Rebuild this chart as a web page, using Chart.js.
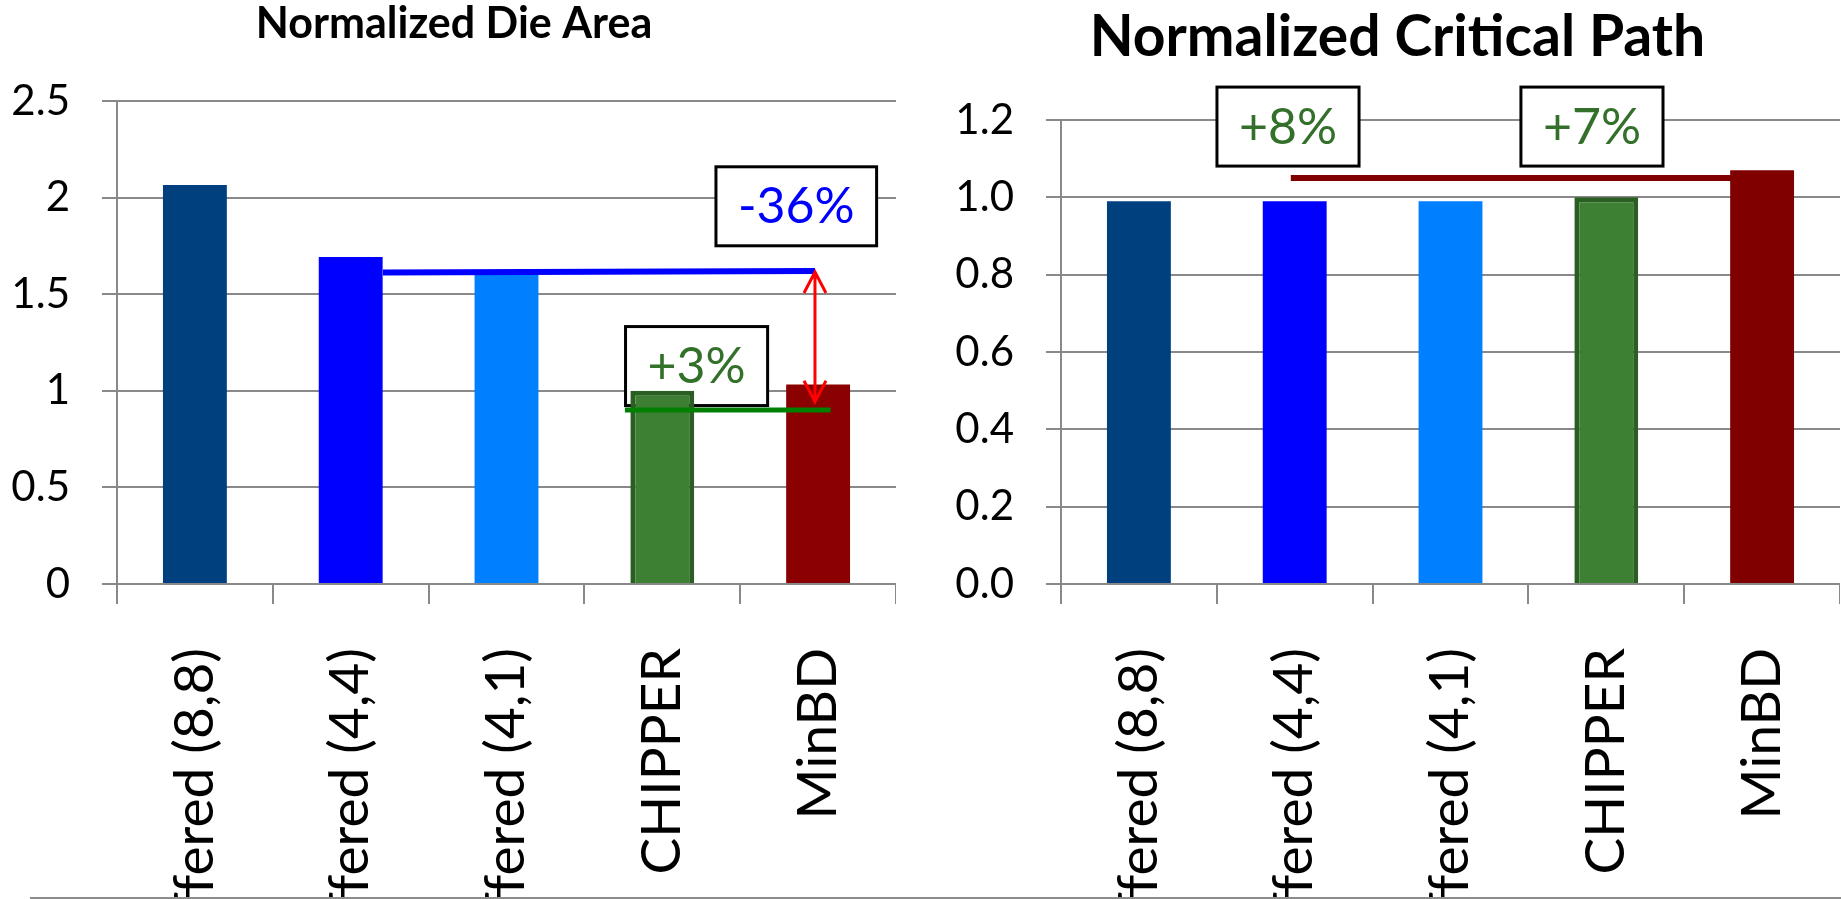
<!DOCTYPE html>
<html>
<head>
<meta charset="utf-8">
<title>Normalized Die Area / Normalized Critical Path</title>
<script src="https://cdn.jsdelivr.net/npm/chart.js@4.4.1/dist/chart.umd.min.js"></script>
<style>
  html, body { margin: 0; padding: 0; background: #fff; overflow: hidden; }
  #wrap { position: relative; width: 1841px; height: 899px; }
  #area-chart { position: absolute; left: 12px; top: 0; }
  #path-chart { position: absolute; left: 955px; top: 0; }
  #bottom-rule { position: absolute; left: 30px; right: 0; top: 897px; height: 2px; background: #8c8c8c; }
</style>
</head>
<body>
<div id="wrap">
  <canvas id="area-chart" width="884" height="899"></canvas>
  <canvas id="path-chart" width="885" height="899"></canvas>
  <div id="bottom-rule"></div>
</div>
<script>
// categories and values
var designs = ['Buffered (8,8)', 'Buffered (4,4)', 'Buffered (4,1)', 'CHIPPER', 'MinBD'];
var dieArea = [2.065, 1.693, 1.61, 1.0, 1.032];
var criticalPath = [0.99, 0.99, 0.99, 1.0, 1.07];
var areaTicks = ['0', '0.5', '1', '1.5', '2', '2.5'];
var pathTicks = ['0.0', '0.2', '0.4', '0.6', '0.8', '1.0', '1.2'];

// callouts: [category index, value, text]
var areaCallouts = [[3.86, 1.955, '-36%'], [3.22, 1.128, '+3%']];
var pathCallouts = [[0.957, 1.183, '+8%'], [2.908, 1.183, '+7%']];
// reference lines: [from index, to index, from value, to value]
var areaBufferedLine = [1.207, 3.98, 1.612, 1.62];
var areaChipperLine = [2.76, 4.08, 0.9, 0.9];
var pathChipperLine = [0.975, 3.807, 1.05, 1.05];
// double arrow: [index, top value, bottom value]
var areaArrow = [3.98, 1.615, 0.943];

var gridGray = '#898989';
var textGreen = '#33702a';

// draws the boxed percentages, the reference lines and the arrow
var calloutPlugin = {
  id: 'callouts',
  beforeDatasetsDraw: function(chart, args, opts) {
    // white boxes sit over the grid but under the bars
    var ctx = chart.ctx, x = chart.scales.x, y = chart.scales.y;
    ctx.save();
    ctx.font = '50px Lato';
    (opts.boxes || []).forEach(function(b) {
      var cx = x.getPixelForValue(b[0]), cy = y.getPixelForValue(b[1]);
      var w = ctx.measureText(b[2]).width + 44, h = 79;
      ctx.fillStyle = '#fff';
      ctx.fillRect(cx - w / 2, cy - h / 2, w, h);
      ctx.lineWidth = 3;
      ctx.strokeStyle = '#000';
      ctx.strokeRect(cx - w / 2, cy - h / 2, w, h);
    });
    ctx.restore();
  },
  afterDatasetsDraw: function(chart, args, opts) {
    var ctx = chart.ctx, x = chart.scales.x, y = chart.scales.y;
    ctx.save();
    (opts.lines || []).forEach(function(l) {
      ctx.beginPath();
      ctx.strokeStyle = l.color;
      ctx.lineWidth = l.width;
      ctx.moveTo(x.getPixelForValue(l.pts[0]), y.getPixelForValue(l.pts[2]));
      ctx.lineTo(x.getPixelForValue(l.pts[1]), y.getPixelForValue(l.pts[3]));
      ctx.stroke();
    });
    if (opts.arrow) {
      var ax = x.getPixelForValue(opts.arrow[0]);
      var top = y.getPixelForValue(opts.arrow[1]), bot = y.getPixelForValue(opts.arrow[2]);
      ctx.strokeStyle = '#ff0000';
      ctx.lineWidth = 3;
      ctx.beginPath();
      ctx.moveTo(ax, top); ctx.lineTo(ax, bot);
      ctx.moveTo(ax - 11, top + 21); ctx.lineTo(ax, top); ctx.lineTo(ax + 11, top + 21);
      ctx.moveTo(ax - 11, bot - 21); ctx.lineTo(ax, bot); ctx.lineTo(ax + 11, bot - 21);
      ctx.stroke();
    }
    ctx.font = '50px Lato';
    ctx.textAlign = 'center';
    ctx.textBaseline = 'middle';
    (opts.boxes || []).forEach(function(b, i) {
      ctx.fillStyle = opts.textColors[i];
      ctx.fillText(b[2], x.getPixelForValue(b[0]), y.getPixelForValue(b[1]) + 1);
    });
    ctx.restore();
  }
};

function panelOptions(title, titleSize, titlePad, yMax, yStep, tickLabels, axisWidth, notes) {
  return {
    responsive: false,
    animation: false,
    events: [],
    layout: { padding: 0 },
    plugins: {
      legend: { display: false },
      tooltip: { enabled: false },
      title: {
        display: true,
        text: title,
        color: '#000',
        font: { family: 'Lato', weight: 'bold', size: titleSize, lineHeight: 1 },
        padding: titlePad
      },
      callouts: notes
    },
    scales: {
      x: {
        grid: { drawOnChartArea: false, drawTicks: true, tickLength: 20, color: gridGray, lineWidth: 2, offset: true },
        border: { color: gridGray, width: 2 },
        ticks: {
          autoSkip: false, maxRotation: 90, minRotation: 90, padding: 44,
          color: '#000', font: { family: 'Lato', size: 55 }
        },
        afterFit: function(scale) {
          // rotated labels hang past the plot; keep the plot edges fixed
          scale.height = 315;
          scale.paddingLeft = 0;
          scale.paddingRight = 0;
        }
      },
      y: {
        min: 0, max: yMax,
        grid: { color: gridGray, lineWidth: 2, tickLength: 15 },
        border: { color: gridGray, width: 2 },
        ticks: {
          stepSize: yStep, padding: 32, color: '#000',
          font: { family: 'Lato', size: 42 },
          callback: function(value, index) { return tickLabels[index]; }
        },
        afterFit: function(scale) { scale.width = axisWidth; }
      }
    }
  };
}

// left panel: die area
var areaChart = new Chart(document.getElementById('area-chart'), {
  type: 'bar',
  data: {
    labels: designs,
    datasets: [{
      data: dieArea,
      backgroundColor: ['#00407f', '#0000ff', '#0080ff', '#3d7f33', '#8b0000'],
      borderColor: ['rgba(0,0,0,0)', 'rgba(0,0,0,0)', 'rgba(0,0,0,0)', '#2a5f22', 'rgba(0,0,0,0)'],
      borderWidth: [0, 0, 0, 5, 0],
      barPercentage: 0.41,
      categoryPercentage: 1
    }]
  },
  options: panelOptions('Normalized Die Area', 43, { top: 3, bottom: 55 }, 2.5, 0.5, areaTicks, 105, {
    boxes: areaCallouts,
    textColors: ['#0000ff', textGreen],
    lines: [
      { pts: areaBufferedLine, color: '#0000ff', width: 6 },
      { pts: areaChipperLine, color: '#008000', width: 5 }
    ],
    arrow: areaArrow
  }),
  plugins: [calloutPlugin]
});

// right panel: critical path
var pathChart = new Chart(document.getElementById('path-chart'), {
  type: 'bar',
  data: {
    labels: designs,
    datasets: [{
      data: criticalPath,
      backgroundColor: ['#00407f', '#0000ff', '#0080ff', '#3d7f33', '#800000'],
      borderColor: ['rgba(0,0,0,0)', 'rgba(0,0,0,0)', 'rgba(0,0,0,0)', '#2a5f22', 'rgba(0,0,0,0)'],
      borderWidth: [0, 0, 0, 5, 0],
      barPercentage: 0.41,
      categoryPercentage: 1
    }]
  },
  options: panelOptions('Normalized Critical Path', 57, { top: 9, bottom: 54 }, 1.2, 0.2, pathTicks, 106, {
    boxes: pathCallouts,
    textColors: [textGreen, textGreen],
    lines: [
      { pts: pathChipperLine, color: '#800000', width: 6 }
    ]
  }),
  plugins: [calloutPlugin]
});
</script>
</body>
</html>
